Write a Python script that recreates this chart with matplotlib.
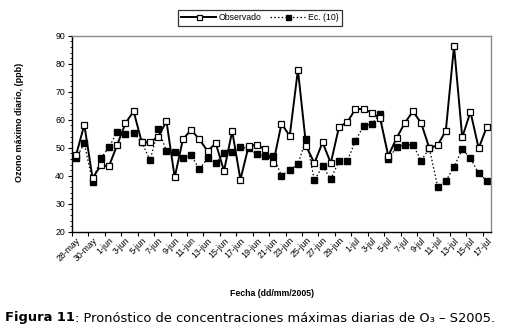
import matplotlib
matplotlib.use("Agg")
import matplotlib.pyplot as plt
import numpy as np
from datetime import date, timedelta

# ---- data ----
start = date(2005, 5, 28)
n_days = 51
months = {5: "may", 6: "jun", 7: "jul"}
dates = [start + timedelta(days=i) for i in range(n_days)]
date_labels = [f"{d.day}-{months[d.month]}" for d in dates]

observado = [47.4, 58.2, 39.1, 43.7, 43.4, 51.0, 58.7, 63.0, 51.9, 51.9,
             54.0, 59.4, 39.4, 53.0, 56.4, 53.0, 48.8, 51.6, 41.7, 55.9,
             38.6, 50.6, 51.1, 49.4, 44.5, 58.6, 54.2, 77.8, 50.6, 44.5,
             51.9, 44.5, 57.4, 59.1, 63.8, 63.8, 62.5, 60.5, 47.1, 53.4,
             58.8, 63.0, 58.8, 49.8, 50.9, 56.0, 86.3, 53.7, 62.8, 49.8,
             57.5]
ec10 = [46.2, 51.6, 37.7, 46.2, 50.1, 55.7, 54.9, 55.4, 51.9, 45.5,
        56.6, 48.8, 48.4, 46.4, 47.4, 42.3, 46.2, 44.5, 48.0, 48.4,
        50.1, 49.8, 47.6, 46.9, 46.9, 40.0, 42.0, 44.1, 53.1, 38.4,
        43.4, 38.8, 45.2, 45.2, 52.5, 57.8, 58.5, 62.0, 45.9, 50.2,
        51.0, 51.0, 45.4, 49.8, 36.1, 38.1, 43.1, 49.5, 46.2, 40.8,
        38.2]

# ---- figure ----
fig = plt.figure(figsize=(5.10, 3.33), dpi=100)
ax = fig.add_axes([72/510, 1-231.7/333, (491-72)/510, (231.7-35.7)/333])

x = np.arange(n_days)
ax.plot(x, observado, color="black", lw=1.4, marker="s", ms=4.0,
        mfc="white", mec="black", mew=0.9, label="Observado", zorder=3)
ax.plot(x, ec10, color="black", lw=0.9, ls=(0, (1.2, 1.8)), marker="s",
        ms=4.0, mfc="black", mec="black", label="Ec. (10)", zorder=2)

ax.set_xlim(-0.5, n_days - 0.5)
ax.set_ylim(20, 90)
ax.set_yticks(np.arange(20, 91, 10))
ax.set_yticks(np.arange(20, 91, 2), minor=True)
ax.tick_params(axis="y", which="major", length=3, width=0.8, labelsize=6.3,
               pad=2)
ax.tick_params(axis="y", which="minor", length=1.5, width=0.6)

# category labels every two days, ticks on category boundaries
ax.set_xticks(x[::2])
ax.set_xticklabels(date_labels[::2], rotation=45, ha="right",
                   rotation_mode="anchor", fontsize=6.3)
ax.tick_params(axis="x", which="major", length=0, pad=3)
ax.set_xticks(np.arange(-0.5, n_days, 2), minor=True)
ax.tick_params(axis="x", which="minor", length=3, width=0.8)

for lab in ax.get_xticklabels() + ax.get_yticklabels():
    lab.set_family(["Liberation Sans", "DejaVu Sans"])

for s in ["left", "bottom"]:
    ax.spines[s].set_color("black")
    ax.spines[s].set_linewidth(1.0)
for s in ["top", "right"]:
    ax.spines[s].set_color("#8c8c8c")
    ax.spines[s].set_linewidth(1.0)

leg = fig.legend(loc="center", bbox_to_anchor=(260/510, 1-18/333), ncol=2,
                 frameon=True, fancybox=False, edgecolor="black",
                 prop={"family": "Liberation Sans", "size": 6.3},
                 handlelength=4.0, columnspacing=1.0, handletextpad=0.3,
                 borderpad=0.35, markerscale=0.9)
leg.get_frame().set_linewidth(0.9)

fig.text(20/510, 1-122/333, "Ozono máximo diario, (ppb)", rotation=90,
         ha="center", va="center", fontsize=6.5, fontweight="bold",
         family=["Liberation Sans", "DejaVu Sans"])
fig.text(272/510, 1-293/333, "Fecha (dd/mm/2005)", ha="center",
         va="center", fontsize=6.3, fontweight="bold",
         family=["Liberation Sans", "DejaVu Sans"])

# caption: bold prefix + regular rest
t1 = fig.text(5/510, 1-318/333, "Figura 11", ha="left", va="center",
              fontsize=9.4, fontweight="bold", family="DejaVu Sans")
fig.canvas.draw()
bb = t1.get_window_extent()
fig.text(bb.x1/510, 1-318/333,
         ": Pronóstico de concentraciones máximas diarias de O₃ – S2005.",
         ha="left", va="center", fontsize=9.4, family="DejaVu Sans")

fig.savefig("out.png", dpi=100)
